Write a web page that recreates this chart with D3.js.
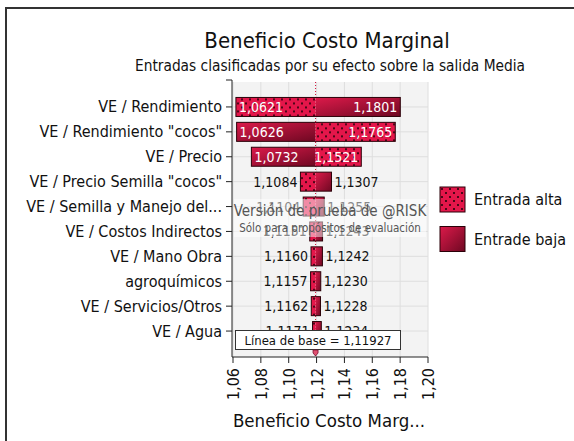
<!DOCTYPE html>
<html>
<head>
<meta charset="utf-8">
<script src="https://cdn.jsdelivr.net/npm/d3@7"></script>
<style>
  body { margin: 0; background: #fff; }
  text { font-family: "DejaVu Sans Condensed", "DejaVu Sans", sans-serif; }
</style>
</head>
<body>
<svg id="chart" width="574" height="441"></svg>
<script>
var categories = ["VE / Rendimiento", "VE / Rendimiento \"cocos\"", "VE / Precio",
  "VE / Precio Semilla \"cocos\"", "VE / Semilla y Manejo del...", "VE / Costos Indirectos",
  "VE / Mano Obra", "agroquímicos", "VE / Servicios/Otros", "VE / Agua"];
// output value when the input is high (dotted) and low (solid)
var altaValues = [1.0621, 1.1765, 1.1521, 1.1084, 1.1104, 1.1151, 1.1160, 1.1157, 1.1162, 1.1171];
var bajaValues = [1.1801, 1.0626, 1.0732, 1.1307, 1.1255, 1.1243, 1.1242, 1.1230, 1.1228, 1.1234];
var baseline = 1.11927;
var xTicks = [1.06, 1.08, 1.10, 1.12, 1.14, 1.16, 1.18, 1.20];

var svg = d3.select("#chart");
var fmt = function(v, n) { return v.toFixed(n).replace(".", ","); };

var x = d3.scaleLinear().domain([1.06, 1.20]).range([233, 428]);
var y = d3.scaleBand().domain(categories).range([94.5, 343.5]);
var plotTop = 82, plotBottom = 357, axisX = 232;

// defs: gradient + dotted pattern
var defs = svg.append("defs");
var grad = defs.append("linearGradient").attr("id", "solidGrad")
  .attr("x1", 0).attr("y1", 0).attr("x2", 1).attr("y2", 1);
grad.append("stop").attr("offset", "0%").attr("stop-color", "#dc1a4a");
grad.append("stop").attr("offset", "100%").attr("stop-color", "#6e0822");
var pat = defs.append("pattern").attr("id", "dots")
  .attr("patternUnits", "userSpaceOnUse").attr("width", 8).attr("height", 8);
pat.append("rect").attr("width", 8).attr("height", 8).attr("fill", "#e4164a");
pat.append("circle").attr("cx", 2).attr("cy", 2).attr("r", 1).attr("fill", "#1a0006");
pat.append("circle").attr("cx", 6).attr("cy", 6).attr("r", 1).attr("fill", "#1a0006");

// outer frame
svg.append("rect").attr("x", 6).attr("y", 8).attr("width", 600).attr("height", 460)
  .attr("fill", "none").attr("stroke", "#333").attr("stroke-width", 2);

// titles
svg.append("text").attr("x", 327).attr("y", 48).attr("text-anchor", "middle")
  .attr("font-size", 22).attr("fill", "#111").text("Beneficio Costo Marginal");
svg.append("text").attr("x", 330).attr("y", 71).attr("text-anchor", "middle")
  .attr("font-size", 15.3).attr("fill", "#111")
  .text("Entradas clasificadas por su efecto sobre la salida Media");

// plot background and grid
svg.append("rect").attr("x", axisX).attr("y", plotTop)
  .attr("width", x(1.20) - axisX).attr("height", plotBottom - plotTop).attr("fill", "#f3f3f3");
svg.append("g").selectAll("line").data(xTicks).enter().append("line")
  .attr("x1", function(d) { return x(d); }).attr("x2", function(d) { return x(d); })
  .attr("y1", plotTop).attr("y2", plotBottom).attr("stroke", "#dedede");
svg.append("g").selectAll("line").data(categories).enter().append("line")
  .attr("x1", axisX).attr("x2", x(1.20))
  .attr("y1", function(d) { return y(d) + y.bandwidth() / 2; })
  .attr("y2", function(d) { return y(d) + y.bandwidth() / 2; })
  .attr("stroke", "#dedede");

// baseline dotted line
svg.append("line").attr("x1", x(baseline)).attr("x2", x(baseline))
  .attr("y1", plotTop).attr("y2", plotBottom)
  .attr("stroke", "#d0103a").attr("stroke-dasharray", "1,2");

// bars
var barH = 19;
var rows = categories.map(function(c, i) {
  return {name: c, alta: altaValues[i], baja: bajaValues[i]};
});
var bars = svg.append("g").selectAll("g").data(rows).enter().append("g")
  .attr("transform", function(d) {
    return "translate(0," + (y(d.name) + y.bandwidth() / 2 - barH / 2) + ")";
  });
function seg(v) {
  return {x: Math.min(x(v), x(baseline)), w: Math.abs(x(v) - x(baseline))};
}
bars.append("rect")
  .attr("x", function(d) { return seg(d.baja).x; })
  .attr("width", function(d) { return seg(d.baja).w; })
  .attr("height", barH).attr("fill", "url(#solidGrad)");
bars.append("rect")
  .attr("x", function(d) { return seg(d.alta).x; })
  .attr("width", function(d) { return seg(d.alta).w; })
  .attr("height", barH).attr("fill", "url(#dots)");
bars.append("rect")
  .attr("x", function(d) { return x(Math.min(d.alta, d.baja)); })
  .attr("width", function(d) { return x(Math.max(d.alta, d.baja)) - x(Math.min(d.alta, d.baja)); })
  .attr("height", barH).attr("fill", "none").attr("stroke", "#2a0008").attr("stroke-width", 1);

// value labels, inside the bar when it is wide enough
function addLabel(isLow) {
  bars.append("text")
    .attr("y", barH / 2 + 5).attr("font-size", 14)
    .each(function(d) {
      var lo = Math.min(d.alta, d.baja), hi = Math.max(d.alta, d.baja);
      var v = isLow ? lo : hi;
      var inside = Math.abs(x(v) - x(baseline)) > 40;
      var t = d3.select(this).text(fmt(v, 4));
      if (isLow) {
        t.attr("x", inside ? x(v) + 3 : x(v) - 3)
          .attr("text-anchor", inside ? "start" : "end");
      } else {
        t.attr("x", inside ? x(v) - 3 : x(v) + 3)
          .attr("text-anchor", inside ? "end" : "start");
      }
      t.attr("fill", inside ? "#fff" : "#111");
    });
}
addLabel(true);
addLabel(false);

// y axis
svg.append("line").attr("x1", axisX).attr("x2", axisX).attr("y1", plotTop - 2).attr("y2", plotBottom)
  .attr("stroke", "#222");
svg.append("line").attr("x1", axisX - 6).attr("x2", axisX).attr("y1", plotTop - 2).attr("y2", plotTop - 2)
  .attr("stroke", "#222");
var yl = svg.append("g").selectAll("g").data(categories).enter().append("g")
  .attr("transform", function(d) { return "translate(0," + (y(d) + y.bandwidth() / 2) + ")"; });
yl.append("line").attr("x1", axisX - 6).attr("x2", axisX).attr("stroke", "#222");
yl.append("text").attr("x", axisX - 10).attr("y", 5.5).attr("text-anchor", "end")
  .attr("font-size", 16).attr("fill", "#111").text(function(d) { return d; });

// x axis
svg.append("line").attr("x1", axisX).attr("x2", x(1.20)).attr("y1", plotBottom).attr("y2", plotBottom)
  .attr("stroke", "#222");
var xl = svg.append("g").selectAll("g").data(xTicks).enter().append("g")
  .attr("transform", function(d) { return "translate(" + x(d) + "," + plotBottom + ")"; });
xl.append("line").attr("y2", 6).attr("stroke", "#222");
xl.append("text").attr("transform", "translate(6,11) rotate(-90)").attr("text-anchor", "end")
  .attr("font-size", 16).attr("fill", "#111").text(function(d) { return fmt(d, 2); });
svg.append("text").attr("x", 329).attr("y", 427).attr("text-anchor", "middle")
  .attr("font-size", 18.5).attr("fill", "#111").text("Beneficio Costo Marg...");

// watermark
svg.append("rect").attr("x", 234).attr("y", 199).attr("width", 192).attr("height", 38)
  .attr("fill", "#fff").attr("opacity", 0.5);
svg.append("text").attr("x", 330).attr("y", 216).attr("text-anchor", "middle")
  .attr("font-size", 15).attr("fill", "#555").text("Versión de prueba de @RISK");
svg.append("text").attr("x", 330).attr("y", 232).attr("text-anchor", "middle")
  .attr("font-size", 11.5).attr("fill", "#555").text("Sólo para propósitos de evaluación");

// baseline box + marker
svg.append("rect").attr("x", 235.5).attr("y", 330.5).attr("width", 165).attr("height", 19)
  .attr("fill", "#fff").attr("stroke", "#333");
svg.append("text").attr("x", 318).attr("y", 345).attr("text-anchor", "middle")
  .attr("font-size", 13).attr("fill", "#111").text("Línea de base = " + fmt(baseline, 5));
svg.append("path")
  .attr("d", "M" + (x(baseline) - 2.5) + ",350 h5 v3 l-2.5,3 l-2.5,-3 z")
  .attr("fill", "#e05070").attr("stroke", "#7a1030").attr("stroke-width", 0.8);

// legend
var legend = [{label: "Entrada alta", fill: "url(#dots)"}, {label: "Entrade baja", fill: "url(#solidGrad)"}];
var lg = svg.append("g").selectAll("g").data(legend).enter().append("g")
  .attr("transform", function(d, i) { return "translate(440," + (187 + i * 39.5) + ")"; });
lg.append("rect").attr("width", 25).attr("height", 25).attr("fill", function(d) { return d.fill; })
  .attr("stroke", "#2a0008");
lg.append("text").attr("x", 34).attr("y", 18).attr("font-size", 16).attr("fill", "#111")
  .text(function(d) { return d.label; });
</script>
</body>
</html>
